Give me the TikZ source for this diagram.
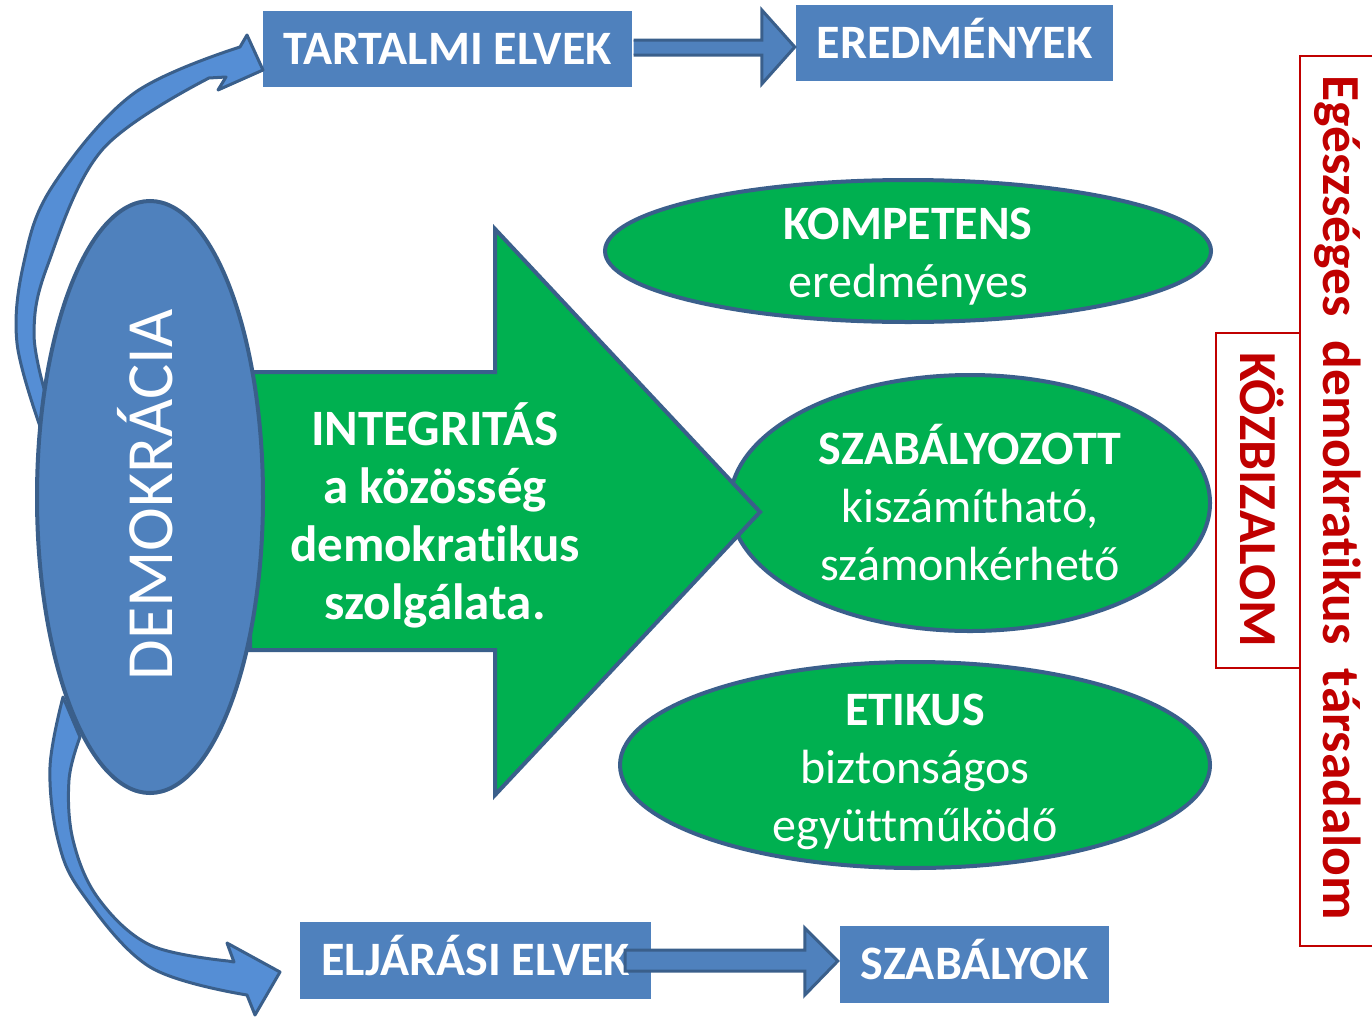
\documentclass[tikz,border=0pt]{standalone}
\usepackage{fontspec}
\setmainfont{Carlito}[Ligatures=CommonOff]
\usetikzlibrary{shapes.geometric,calc}
\definecolor{bfill}{HTML}{4F81BD}
\definecolor{bline}{HTML}{3A5F8B}
\definecolor{cfill}{HTML}{558ED5}
\definecolor{gfill}{HTML}{00B050}
\definecolor{rline}{HTML}{C00000}
\tikzset{
  bluebox/.style={rectangle, fill=bfill, text=white, inner sep=0pt, font=\fontsize{48}{56}\selectfont\bfseries, text height=30pt, text depth=0pt},
  greenell/.style={ellipse, fill=gfill, draw=bline, line width=4pt, inner sep=0pt},
  elltxt/.style={text=white, align=center, inner sep=0pt, font=\fontsize{48}{58}\selectfont},
  blockarr/.style={fill=bfill, draw=bline, line width=3pt, line join=miter},
  curvarr/.style={fill=cfill, draw=bline, line width=3pt, line join=round},
  redtxt/.style={text=rline, font=\fontsize{53.5}{60}\selectfont\bfseries, inner sep=0pt}
}
\begin{document}
\begin{tikzpicture}[x=1pt,y=-1pt]
\useasboundingbox (0,0) rectangle (1372,1017);

% boxes
\node[bluebox, minimum width=369pt, minimum height=76pt] (tart) at (447.5,49) {TARTALMI ELVEK};
\node[bluebox, minimum width=317pt, minimum height=76pt] (ered) at (954.5,43) {EREDMÉNYEK};
\node[bluebox, minimum width=351pt, minimum height=77pt] (elj) at (475.5,960.5) {ELJÁRÁSI ELVEK};
\node[bluebox, minimum width=269pt, minimum height=77pt] (szab) at (974.5,964.5) {SZABÁLYOK};

% connectors between boxes
\draw[blockarr] ($(tart.east)+(1.5,-9)$) -- ($(ered.west)+(-34,-3)$) -- ++(0,-30) -- ($(ered.west)+(-1,4)$) -- ($(ered.west)+(-34,41)$) -- ++(0,-29) -- ($(tart.east)+(1.5,6)$);
\draw[blockarr] ($(elj.east)+(-26,-10.5)$) -- ($(szab.west)+(-35,-14.5)$) -- ++(0,-22) -- ($(szab.west)+(-2,-3.5)$) -- ($(szab.west)+(-35,30.5)$) -- ++(0,-24) -- ($(elj.east)+(-26,10.5)$) -- cycle;

% curved arrows
\filldraw[curvarr] plot[smooth, tension=0.6] coordinates {(42,432) (17,343) (24,262) (52,187) (133,94) (240,47)}
  -- (247,35) -- (263,70) -- (218,90) -- (226,77)
  -- plot[smooth, tension=0.6] coordinates {(209,78) (102,150) (47,267) (34,333) (45,392)} -- cycle;
\filldraw[curvarr] plot[smooth, tension=0.6] coordinates {(63,697) (50,767) (58,840) (82,893) (150,967) (247,995)}
  -- (255,1015) -- (280,972) -- (227,943) -- (234,962)
  -- plot[smooth, tension=0.6] coordinates {(228,961) (150,945) (98,898) (73,840) (69,780) (80,737)} -- cycle;

% ellipses
\node[greenell, minimum width=606pt, minimum height=142pt] (komp) at (908,251) {};
\node[elltxt] (komptxt) at (908,257) {\textbf{KOMPETENS}\\eredményes};
\node[greenell, minimum width=480pt, minimum height=256pt] (szabe) at (970,503) {};
\node[elltxt] (szabtxt) at (970,503) {\textbf{SZABÁLYOZOTT}\\kiszámítható,\\számonkérhető};
\node[greenell, minimum width=590pt, minimum height=206pt] (etik) at (915,765) {};
\node[elltxt] (etiktxt) at (915,772) {\textbf{ETIKUS}\\biztonságos\\együttműködő};

% big green arrow
\filldraw[fill=gfill, draw=bline, line width=4pt, line join=miter] (250,372) -- (495,372) -- (495,229) -- (760,512) -- (495,795) -- (495,650) -- (250,650) -- cycle;
\node[text=white, align=center, font=\fontsize{51}{58}\selectfont\bfseries] (integ) at (435,515) {INTEGRITÁS\\a közösség\\demokratikus\\szolgálata.};

% democracy ellipse
\node[ellipse, fill=bfill, draw=bline, line width=4pt, minimum width=226pt, minimum height=592pt, inner sep=0pt] (demo) at (150,497) {};
\node[rotate=90, anchor=base, text=white, font=\fontsize{66}{70}\selectfont, inner sep=0pt] (demotxt) at (172,495) {DEMOKRÁCIA};

% red boxes
\draw[rline, line width=2pt] (1372,56) -- (1300,56) -- (1300,946) -- (1372,946);
\draw[rline, line width=2pt] (1216,333) rectangle (1300,668);
\node[redtxt, rotate=-90, anchor=base] (tars) at (1323,498) {Egészséges\hspace{0.45em}demokratikus\hspace{0.45em}társadalom};
\node[redtxt, rotate=-90, anchor=base] (kozb) at (1240,500) {KÖZBIZALOM};
\end{tikzpicture}
\end{document}
